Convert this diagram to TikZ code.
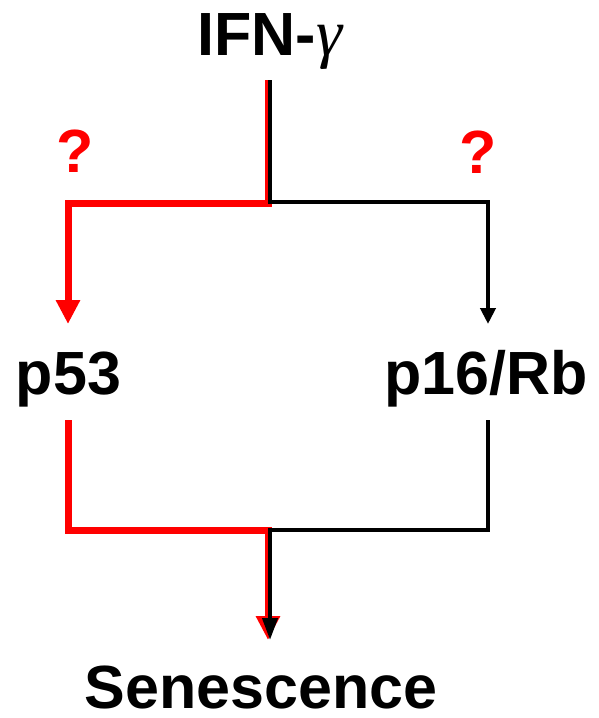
\documentclass[tikz,border=0pt]{standalone}
\usepackage{fontspec}
\setmainfont{Liberation Sans}
\newfontfamily\greekserif{Liberation Serif}
\usetikzlibrary{arrows.meta}
\definecolor{pathred}{RGB}{255,0,0}
\begin{document}
\begin{tikzpicture}[x=1pt,y=-1pt,
  lbl/.style={inner sep=0pt, anchor=base, font=\fontsize{61}{61}\selectfont\bfseries},
  qmark/.style={lbl, text=pathred},
  redpath/.style={draw=pathred, line width=7pt, line join=miter},
  blackpath/.style={draw=black, line width=4pt, line join=miter},
  redhead/.style={-{Triangle[length=24pt,width=23pt]}},
  blackhead/.style={-{Triangle[length=16pt,width=15pt]}}]
\useasboundingbox (0,0) rectangle (599,718);

% labels
\node[lbl] (ifn) at (270,55) {IFN-{\greekserif\fontsize{66}{66}\selectfont\mdseries\itshape γ}};
\node[lbl] (p53) at (68.5,394) {p53};
\node[lbl] (p16) at (486,394) {p16/Rb};
\node[lbl] (sen) at (261,708) {Senescence};
\node[qmark] (q1) at (75,172) {?};
\node[qmark] (q2) at (478,173) {?};

% branch points and line ends
\coordinate (ifnR) at (268,80);
\coordinate (ifnB) at (270,80);
\coordinate (splitR) at (268,203);
\coordinate (splitB) at (270,202);
\coordinate (p53in) at (68,324);
\coordinate (p16in) at (488,324);
\coordinate (p53out) at (68,420);
\coordinate (p16out) at (488,420);
\coordinate (joinR) at (268,530);
\coordinate (joinB) at (270,530);
\coordinate (senR) at (268,640);
\coordinate (senB) at (270,640);

% red route through p53
\draw[redpath, redhead] (ifnR) -- (splitR) -- (splitR -| p53in) -- (p53in);
\draw[redpath, redhead] (p53out) -- (p53out |- joinR) -- (joinR) -- (senR);

% black route through p16/Rb
\draw[blackpath, blackhead] (ifnB) -- (splitB) -- (splitB -| p16in) -- (p16in);
\draw[blackpath, -{Triangle[length=22pt,width=15pt]}] (p16out) -- (p16out |- joinB) -- (joinB) -- (senB);
\end{tikzpicture}
\end{document}
